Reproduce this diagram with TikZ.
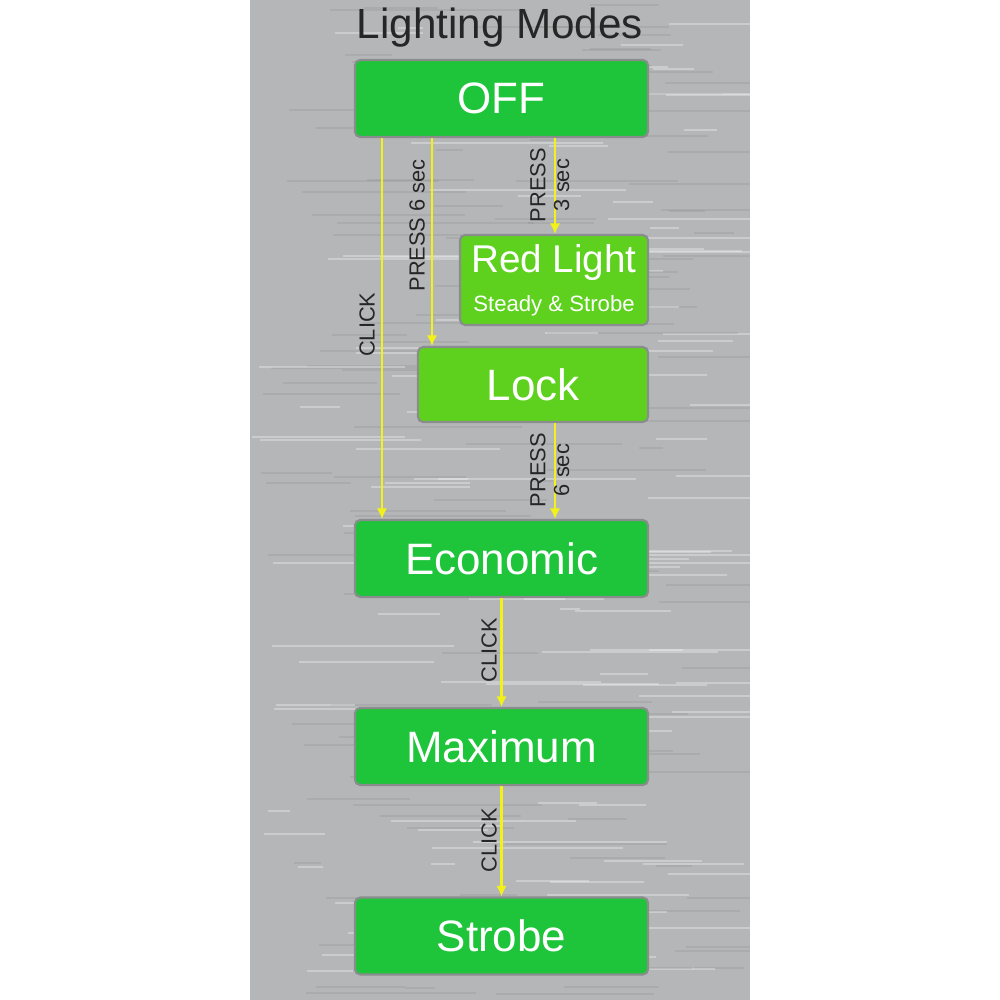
\documentclass[tikz,border=0pt]{standalone}
\usepackage{fontspec}
\setmainfont{Liberation Sans}
\definecolor{panel}{HTML}{B4B6B8}
\definecolor{grn}{HTML}{1EC43A}
\definecolor{lgrn}{HTML}{5ED11E}
\definecolor{yel}{HTML}{F2F21A}
\definecolor{bord}{HTML}{8A8C8E}
\usetikzlibrary{arrows.meta}
\tikzset{
 box/.style={draw=bord,line width=0.6pt,fill=grn,rounded corners=1.5pt,text=white,font=\fontsize{12.5}{14}\selectfont,inner sep=0pt},
 lbox/.style={box,fill=lgrn},
 arr/.style={yel,line width=0.6pt,-{Latex[length=3pt,width=3pt]}},
 lab/.style={rotate=90,font=\fontsize{6.2}{6.8}\selectfont,text=black!85,align=center,inner sep=0.5pt}
}
\begin{document}
\begin{tikzpicture}[x=0.01cm,y=-0.01cm]
\useasboundingbox (0,0) rectangle (1000,1000);
\fill[white] (0,0) rectangle (1000,1000);
\fill[panel] (250,0) rectangle (750,1000);
\pgfmathsetseed{7}
\foreach \i in {1,...,260}{
 \pgfmathsetmacro\yy{random(0,1000)}
 \pgfmathsetmacro\xa{250+random(0,450)}
 \pgfmathsetmacro\ll{random(20,200)}
 \pgfmathsetmacro\cc{random(0,1)}
 \ifdim\cc pt>0.5pt
  \draw[white,opacity=0.3,line width=0.4pt] (\xa,\yy) -- ({min(750,\xa+\ll)},\yy);
 \else
  \draw[black!45,opacity=0.25,line width=0.4pt] (\xa,\yy) -- ({min(750,\xa+\ll)},\yy);
 \fi
}
\node[font=\fontsize{12}{13}\selectfont,text=black!85] (title) at (500,28) {Lighting Modes};
\node[box,minimum width=2.93cm,minimum height=0.77cm] (off) at (501.5,98.5) {OFF};
\node[lbox,minimum width=1.88cm,minimum height=0.9cm,align=center,font=\fontsize{11}{12}\selectfont] (red) at (554,280) {Red Light\\[-1pt]{\fontsize{6.3}{7}\selectfont Steady \& Strobe}};
\node[lbox,minimum width=2.30cm,minimum height=0.75cm] (lock) at (533,384.5) {Lock};
\node[box,minimum width=2.93cm,minimum height=0.77cm] (eco) at (501.5,558.5) {Economic};
\node[box,minimum width=2.93cm,minimum height=0.77cm] (max) at (501.5,746.5) {Maximum};
\node[box,minimum width=2.93cm,minimum height=0.77cm] (str) at (501.5,936) {Strobe};
\draw[arr] (off.south -| 382,0) -- (eco.north -| 382,0) node[pos=0.49,lab,yshift=4.2pt] {CLICK};
\draw[arr] (off.south -| 432,0) -- (lock.north -| 432,0) node[pos=0.42,lab,yshift=4.2pt] {PRESS 6 sec};
\draw[arr] (off.south -| 555,0) -- (red.north -| 555,0) node[pos=0.49,lab,yshift=1.5pt] {PRESS\\3 sec};
\draw[arr] (lock.south -| 555,0) -- (eco.north -| 555,0) node[pos=0.49,lab,yshift=1.5pt] {PRESS\\6 sec};
\draw[arr] (eco.south) -- (max.north) node[pos=0.48,lab,yshift=3.5pt] {CLICK};
\draw[arr] (max.south) -- (str.north) node[pos=0.49,lab,yshift=3.5pt] {CLICK};
\end{tikzpicture}
\end{document}
